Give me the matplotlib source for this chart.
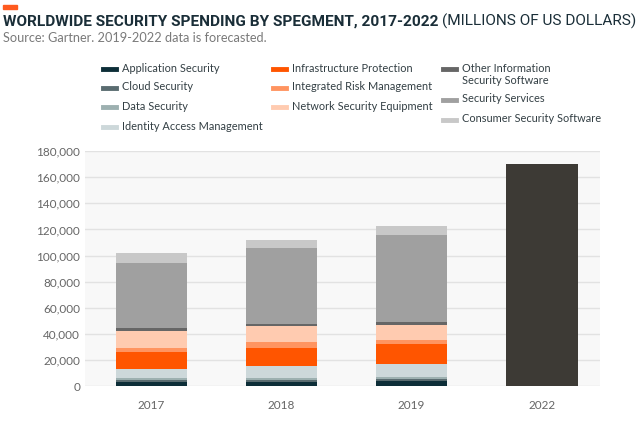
import numpy as np
import matplotlib.pyplot as plt
from matplotlib.lines import Line2D

years = ['2017', '2018', '2019', '2022']
segments = ['Application Security', 'Cloud Security', 'Data Security',
            'Identity Access Management', 'Infrastructure Protection',
            'Integrated Risk Management', 'Network Security Equipment',
            'Other Information\nSecurity Software', 'Security Services',
            'Consumer Security Software']
colors = ['#0d2e38', '#5a6c70', '#9db0b0', '#cdd8da', '#ff5500',
          '#ff9460', '#ffcbb0', '#666666', '#a0a0a0', '#c8c8c8']

# values per segment for 2017, 2018, 2019 (millions USD)
app_sec = [3300, 3300, 3600]
cloud_sec = [1300, 1200, 1500]
data_sec = [1300, 1800, 2000]
iam = [7300, 9450, 9700]
infra = [12700, 13800, 15800]
irm = [3400, 4600, 2600]
nse = [12700, 11750, 11700]
other_sw = [2300, 2000, 2000]
services = [49800, 57700, 66900]
consumer = [7700, 6100, 6600]
total_2022 = 170000

series = [app_sec, cloud_sec, data_sec, iam, infra, irm, nse, other_sw, services, consumer]

plt.rcParams['font.family'] = ['Lato', 'DejaVu Sans']

W, H = 640, 422
fig = plt.figure(figsize=(6.4, 4.22), dpi=100)
ax = fig.add_axes([0.133, 0.085, 0.805, 0.557])
ax.set_facecolor('#f8f8f8')

x = np.arange(len(years))
w = 0.55
bottom = np.zeros(3)
for vals, c, lab in zip(series, colors, segments):
    ax.bar(x[:3], vals, w, bottom=bottom, color=c, label=lab, zorder=3)
    bottom += np.array(vals)
ax.bar(x[3], total_2022, w, color='#3d3a35', zorder=3)

ax.set_xlim(-0.51, 3.45)
ax.set_ylim(0, 180000)
ax.set_yticks(np.arange(0, 180001, 20000))
ax.set_yticklabels([f'{v:,}' for v in range(0, 180001, 20000)])
ax.set_xticks(x)
ax.set_xticklabels(years)
ax.tick_params(length=0, colors='#666666', labelsize=8.5)
ax.tick_params(axis='x', pad=10)
ax.grid(axis='y', color='#e2e2e2', lw=1, zorder=0)
for s in ax.spines.values():
    s.set_visible(False)

# legend laid out by hand: three columns, rows as in the original
col_x = [103, 273, 443]
leg_pos = [(0, 69), (0, 88), (0, 107), (0, 127),
           (1, 69), (1, 88), (1, 107),
           (2, 69), (2, 100), (2, 120)]
for (ci, yy), lab, c in zip(leg_pos, segments, colors):
    x0 = col_x[ci]
    fig.add_artist(Line2D([x0 / W, (x0 + 13) / W], [1 - yy / H, 1 - yy / H],
                          color=c, lw=3.5, transform=fig.transFigure))
    fig.text((x0 + 19) / W, 1 - (yy - 6.5) / H, lab, fontsize=7.9, color='#333f44',
             va='top', linespacing=1.15)

# header
fig.add_artist(plt.Rectangle((3 / W, 1 - 9 / H), 14 / W, 4 / H,
                             transform=fig.transFigure, color='#ff5a1f'))
t1 = fig.text(3 / W, 1 - 26 / H, 'WORLDWIDE SECURITY SPENDING BY SPEGMENT, 2017-2022',
              family='Roboto', fontweight='bold', fontsize=13, color='#1a2e38')
t2 = fig.text(0.5, 1 - 26 / H, '(MILLIONS OF US DOLLARS)',
              family='Roboto', fontsize=13, color='#1a2e38')
fig.canvas.draw()
total = t1.get_window_extent().width + t2.get_window_extent().width
fs = 13 * 628 / total
t1.set_fontsize(fs)
t2.set_fontsize(fs)
fig.canvas.draw()
t2.set_x((t1.get_window_extent().x1 + 4) / W)
fig.text(3 / W, 1 - 42 / H, 'Source: Gartner. 2019-2022 data is forecasted.',
         fontsize=9.2, color='#7a7a7a')

fig.savefig('out.png', dpi=100, facecolor='white')
